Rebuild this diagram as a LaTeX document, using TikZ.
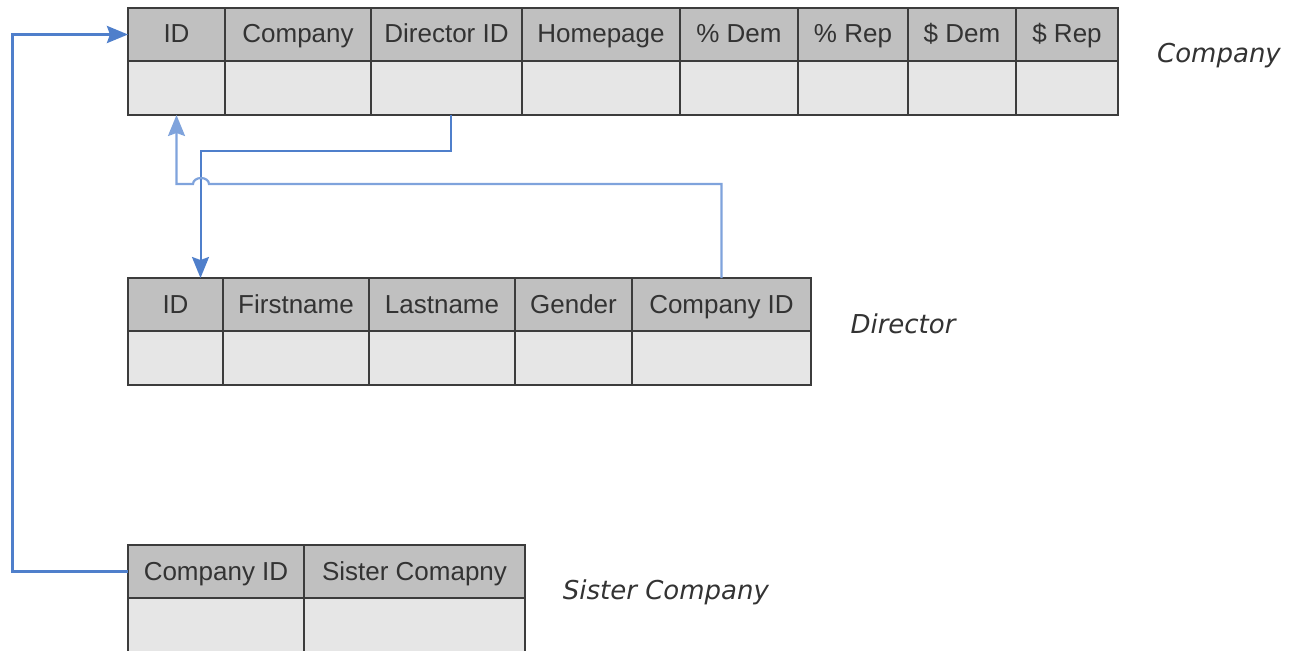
\documentclass[tikz,border=0pt]{standalone}
\usepackage{fontspec}
\setmainfont{Liberation Sans}
\newfontfamily\labelfont{DejaVu Sans}[ItalicFont={DejaVu Sans Oblique}]
\usepackage{xcolor}
\definecolor{hdrgray}{HTML}{C0C0C0}
\definecolor{cellgray}{HTML}{E6E6E6}
\definecolor{edge}{HTML}{3C3C3C}
\definecolor{linkblue}{HTML}{4F7FCB}
\definecolor{linklight}{HTML}{7FA3DC}
\usetikzlibrary{arrows.meta, positioning}

\tikzset{
  hdr/.style={draw=edge, fill=hdrgray, line width=2pt, outer sep=0pt, inner sep=0pt,
              minimum height=53pt, text height=19pt, text depth=2pt,
              font=\fontsize{26}{30}\selectfont, text=black!80},
  cell/.style={draw=edge, fill=cellgray, line width=2pt, outer sep=0pt, inner sep=0pt,
               minimum height=54pt},
  tname/.style={font=\labelfont\itshape\fontsize{26}{30}\selectfont, text=black!80},
  link/.style={draw=linkblue, line width=2pt, -{Stealth[length=21pt, width=17pt, inset=3pt]}},
}

\begin{document}
\begin{tikzpicture}[x=1pt, y=-1pt]
  \useasboundingbox (0,0) rectangle (1289,650);
  \clip (0,0) rectangle (1289,650);

  % Company
  \node[hdr, minimum width=97pt, anchor=north west] (c1) at (128,8) {ID};
  \node[hdr, minimum width=146pt, right=0pt of c1] (c2) {Company};
  \node[hdr, minimum width=151pt, right=0pt of c2] (c3) {Director ID};
  \node[hdr, minimum width=158pt, right=0pt of c3] (c4) {Homepage};
  \node[hdr, minimum width=118pt, right=0pt of c4] (c5) {\% Dem};
  \node[hdr, minimum width=110pt, right=0pt of c5] (c6) {\% Rep};
  \node[hdr, minimum width=108pt, right=0pt of c6] (c7) {\$ Dem};
  \node[hdr, minimum width=102pt, right=0pt of c7] (c8) {\$ Rep};
  \node[cell, minimum width=97pt, below=0pt of c1] (c1b) {};
  \node[cell, minimum width=146pt, below=0pt of c2] (c2b) {};
  \node[cell, minimum width=151pt, below=0pt of c3] (c3b) {};
  \node[cell, minimum width=158pt, below=0pt of c4] (c4b) {};
  \node[cell, minimum width=118pt, below=0pt of c5] (c5b) {};
  \node[cell, minimum width=110pt, below=0pt of c6] (c6b) {};
  \node[cell, minimum width=108pt, below=0pt of c7] (c7b) {};
  \node[cell, minimum width=102pt, below=0pt of c8] (c8b) {};
  \node[tname] (company) at (1219,56) {Company};

  % Director
  \node[hdr, minimum width=95pt, anchor=north west] (d1) at (128,278) {ID};
  \node[hdr, minimum width=146pt, right=0pt of d1] (d2) {Firstname};
  \node[hdr, minimum width=146pt, right=0pt of d2] (d3) {Lastname};
  \node[hdr, minimum width=117pt, right=0pt of d3] (d4) {Gender};
  \node[hdr, minimum width=179pt, right=0pt of d4] (d5) {Company ID};
  \node[cell, minimum width=95pt, below=0pt of d1] (d1b) {};
  \node[cell, minimum width=146pt, below=0pt of d2] (d2b) {};
  \node[cell, minimum width=146pt, below=0pt of d3] (d3b) {};
  \node[cell, minimum width=117pt, below=0pt of d4] (d4b) {};
  \node[cell, minimum width=179pt, below=0pt of d5] (d5b) {};
  \node[tname] (director) at (903,324) {Director};

  % Sister Company
  \node[hdr, minimum width=176pt, anchor=north west] (s1) at (128,545) {Company ID};
  \node[hdr, minimum width=221pt, right=0pt of s1] (s2) {Sister Comapny};
  \node[cell, minimum width=176pt, below=0pt of s1] (s1b) {};
  \node[cell, minimum width=221pt, below=0pt of s2] (s2b) {};
  \node[tname] (sister) at (666,592) {Sister Company};

  \coordinate (hop) at (201,184);

  \draw[link, line width=3pt] (s1.west) -- ++(-116,0) |- (c1.west);
  \draw[link, line width=2pt] ([xshift=4pt]c3b.south) -- ++(0,36) -| ([xshift=25pt]d1.north);
  \draw[link, draw=linklight, line width=2.2pt]
    (d5.north) |- ([xshift=8pt]hop)
    arc[start angle=0, end angle=-180, x radius=8, y radius=6] -| (c1b.south);

\end{tikzpicture}
\end{document}
